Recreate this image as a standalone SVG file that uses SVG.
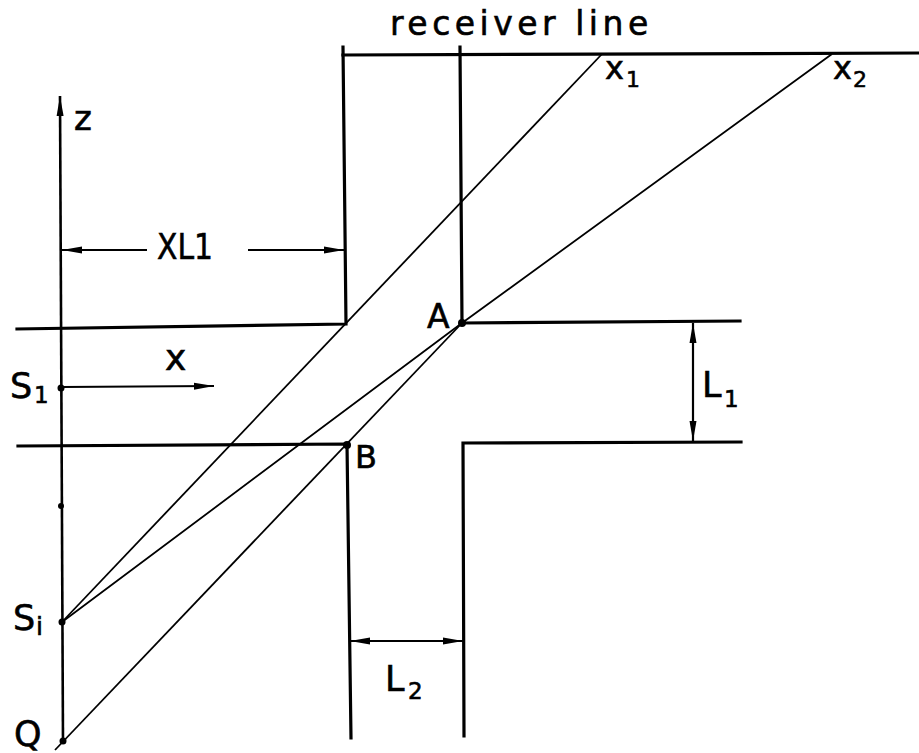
<svg xmlns="http://www.w3.org/2000/svg" width="919" height="753" viewBox="0 0 919 753">
<defs>
<style>
.thick{stroke:#000;stroke-width:3.2;fill:none;stroke-linecap:square}
.axis{stroke:#000;stroke-width:2.6;fill:none}
.ray{stroke:#000;stroke-width:1.8;fill:none}
.dim{stroke:#000;stroke-width:2.2;fill:none}
.lbl{font-family:"DejaVu Sans",sans-serif;fill:#000;stroke:#000;stroke-width:0.6}
.dot{fill:#000}
</style>
<marker id="ah" viewBox="0 0 20 10" refX="20" refY="5" markerWidth="20" markerHeight="10" markerUnits="userSpaceOnUse" orient="auto-start-reverse">
<path d="M0,1.5 L20,5 L0,8.5 Z" fill="#000"/>
</marker>
</defs>
<rect width="919" height="753" fill="#fff"/>

<g id="structure">
<polyline class="thick" points="919,53 343,55"/>
<polyline class="thick" points="343,47 346,324 17,329"/>
<polyline class="thick" points="460,47 462,323 740,321"/>
<polyline class="thick" points="18,446 347,444 351,738"/>
<polyline class="thick" points="741,442 463,443 464,736"/>
</g>

<g id="axis">
<line class="axis" x1="63" y1="742" x2="60" y2="96" marker-end="url(#ah)"/>
</g>

<g id="connectors">
<line class="ray" x1="62" y1="622" x2="602" y2="54"/>
<polyline class="ray" points="62,622 462,323 832,54"/>
<line class="ray" x1="55" y1="750" x2="462" y2="323"/>
<line class="dim" x1="62" y1="387" x2="214" y2="386" marker-end="url(#ah)"/>
<line class="dim" x1="147" y1="250" x2="62" y2="250" marker-end="url(#ah)"/>
<line class="dim" x1="248" y1="250" x2="344" y2="250" marker-end="url(#ah)"/>
<line class="dim" x1="693" y1="323" x2="693" y2="441" marker-start="url(#ah)" marker-end="url(#ah)"/>
<line class="dim" x1="350" y1="641" x2="463" y2="641" marker-start="url(#ah)" marker-end="url(#ah)"/>
</g>

<g id="points">
<circle class="dot" cx="462" cy="323" r="4"/>
<circle class="dot" cx="347" cy="445" r="4"/>
<circle class="dot" cx="61" cy="388" r="3.5"/>
<circle class="dot" cx="61" cy="506" r="3"/>
<circle class="dot" cx="62" cy="622" r="3.5"/>
<circle class="dot" cx="63" cy="741" r="3.5"/>
</g>

<g id="labels">
<text class="lbl" x="390" y="35" font-size="33" letter-spacing="4.5">receiver line</text>
<text class="lbl" x="74" y="130" font-size="34">z</text>
<text class="lbl" x="157" y="259" font-size="36" textLength="56" lengthAdjust="spacingAndGlyphs">XL1</text>
<text class="lbl" x="165" y="370" font-size="36">x</text>
<text class="lbl" x="605" y="79" font-size="32">x</text>
<text class="lbl" x="626" y="87" font-size="22">1</text>
<text class="lbl" x="833" y="79" font-size="32">x</text>
<text class="lbl" x="853" y="87" font-size="22">2</text>
<text class="lbl" x="10" y="398" font-size="35">S</text>
<text class="lbl" x="34" y="403" font-size="23">1</text>
<text class="lbl" x="13" y="630" font-size="35">S</text>
<text class="lbl" x="36" y="635" font-size="25">i</text>
<text class="lbl" x="14" y="746" font-size="35">Q</text>
<text class="lbl" x="427" y="328" font-size="33">A</text>
<text class="lbl" x="355" y="468" font-size="32">B</text>
<text class="lbl" x="702" y="397" font-size="35">L</text>
<text class="lbl" x="724" y="407" font-size="23">1</text>
<text class="lbl" x="385" y="691" font-size="35">L</text>
<text class="lbl" x="408" y="699" font-size="23">2</text>
</g>
</svg>
